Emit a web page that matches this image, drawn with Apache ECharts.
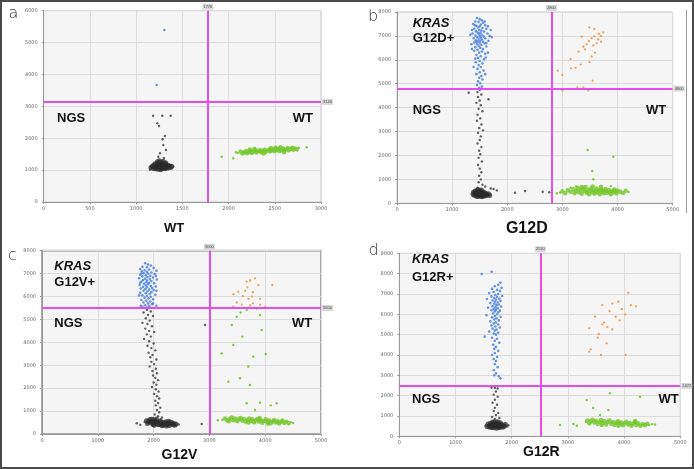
<!DOCTYPE html>
<html>
<head>
<meta charset="utf-8">
<script src="https://cdn.jsdelivr.net/npm/echarts@6/dist/echarts.min.js"></script>
<style>
  html, body { margin: 0; padding: 0; background: #fff; }
  #chart { width: 694px; height: 469px; }
</style>
</head>
<body>
<div id="chart"></div>
<script>
// ---- panel a : WT ----
// dense droplet clouds ("core") and the scattered droplets around them
const aBlackCore = [[1160,1080],[1175,1120],[1185,1050],[1190,1160],[1200,1100],[1205,1200],[1210,1040],[1215,1140],[1220,1080],[1225,1180],[1230,1120],[1235,1030],[1240,1220],[1245,1090],[1250,1150],[1255,1060],[1260,1190],[1262,1120],[1265,1010],[1268,1240],[1270,1140],[1272,1080],[1275,1170],[1278,1050],[1280,1110],[1285,1210],[1288,1130],[1290,1070],[1295,1160],[1300,1100],[1305,1190],[1310,1040],[1315,1130],[1320,1080],[1325,1170],[1330,1110],[1340,1060],[1345,1150],[1355,1100],[1365,1130],[1375,1080],[1385,1120],[1250,1290],[1290,1280],[1230,1260],[1320,1230]];
const aBlack = [[1184,2707],[1283,2707],[1374,2707],[1229,2468],[1247,2384],[1287,1966],[1312,2070],[1294,1788],[1258,1527],[1323,1631],[1240,1420],[1300,1380],[1150,1010],[1400,1120]];
const aGreenCore = [[2130,1580],[2150,1520],[2170,1560],[2190,1600],[2200,1530],[2220,1570],[2240,1610],[2250,1540],[2270,1580],[2290,1620],[2300,1550],[2320,1590],[2340,1630],[2350,1560],[2370,1600],[2390,1640],[2400,1570],[2420,1610],[2440,1650],[2450,1580],[2470,1620],[2490,1660],[2500,1590],[2520,1630],[2540,1670],[2550,1600],[2570,1640],[2590,1680],[2600,1610],[2620,1650],[2640,1690],[2650,1620],[2670,1660],[2690,1700],[2700,1640],[2720,1680],[2740,1650],[2560,1720],[2460,1690],[2380,1520],[2600,1560],[2230,1650],[2510,1700],[2280,1660]];
const aGreen = [[1926,1420],[2050,1370],[2080,1560],[2100,1540],[2760,1700],[2845,1715]];
const aBlue = [[1305,5395],[1222,3670]];
const aOrange = [];

// ---- panel b : G12D ----
const bBlackCore = [[1380,380],[1390,470],[1400,340],[1410,430],[1420,510],[1430,390],[1440,300],[1445,460],[1450,360],[1460,540],[1465,420],[1470,280],[1480,480],[1485,350],[1490,430],[1500,390],[1505,500],[1510,310],[1515,450],[1520,370],[1530,420],[1535,270],[1540,480],[1550,340],[1555,440],[1560,390],[1570,300],[1580,460],[1590,360],[1600,420],[1610,320],[1620,390],[1640,350],[1660,400],[1680,330],[1470,580],[1530,560]];
const bBlack = [[1500,4750],[1460,4650],[1300,4620],[1530,4550],[1470,4450],[1660,4350],[1500,4300],[1440,4200],[1520,4100],[1480,3950],[1550,3850],[1460,3700],[1510,3550],[1450,3450],[1530,3300],[1490,3150],[1560,3050],[1470,2950],[1520,2800],[1500,2650],[1460,2500],[1530,2350],[1490,2200],[1510,2050],[1480,1900],[1540,1750],[1470,1600],[1500,1450],[1530,1300],[1490,1150],[1520,1000],[1480,880],[1550,780],[1600,700],[1460,650],
  [1360,420],[1700,370],[1750,600],[1810,540],[1700,620],[2140,443],[2322,514],[2643,485],[2763,460]];
const bGreenCore = [[3000,500],[3050,420],[3100,550],[3150,480],[3200,600],[3220,420],[3250,520],[3280,650],[3300,460],[3330,560],[3350,400],[3380,620],[3400,500],[3420,680],[3440,440],[3460,570],[3480,380],[3500,520],[3520,630],[3540,460],[3560,560],[3580,400],[3600,500],[3620,620],[3640,450],[3660,540],[3680,380],[3700,590],[3720,480],[3740,530],[3760,420],[3780,600],[3800,500],[3820,440],[3840,560],[3860,480],[3880,380],[3900,530],[3920,450],[3940,580],[3960,500],[3980,420],[4000,540],[4050,480],[4100,430],[4150,520],[3550,700],[3350,680],[3700,690]];
const bGreen = [[2960,450],[4200,470],[2998,4738],[3470,4738],[3459,2229],[3923,1949],[3542,1351],[3560,1004],[2900,420],[3150,650],[3250,700],[3880,720]];
const bBlue = [[1450,7750],[1500,7700],[1540,7650],[1420,7600],[1480,7580],[1560,7550],[1380,7500],[1520,7480],[1600,7450],[1440,7420],[1500,7400],[1470,7350],[1550,7330],[1400,7300],[1620,7300],[1490,7250],[1530,7220],[1430,7200],[1580,7180],[1460,7150],[1510,7120],[1370,7100],[1640,7100],[1480,7080],[1540,7050],[1420,7020],[1500,7000],[1570,6980],[1450,6950],[1520,6930],[1600,6900],[1390,6900],[1480,6880],[1540,6850],[1430,6820],[1510,6800],[1660,6800],[1470,6770],[1560,6750],[1400,6720],[1500,6700],[1590,6680],[1450,6650],[1530,6620],[1480,6580],[1620,6560],[1420,6530],[1510,6500],[1560,6450],[1460,6420],[1400,6380],[1540,6350],[1490,6300],[1600,6250],[1440,6200],[1520,6150],[1470,6080],[1580,6020],[1500,5950],[1430,5900],[1550,5850],[1480,5780],[1520,5700],[1460,5620],[1570,5550],[1500,5480],[1440,5400],[1530,5320],[1490,5250],[1550,5180],[1470,5100],[1510,5020],[1450,4950],[1540,4880],[1490,4830],[1700,7250],[1720,6950],[1350,6650],[1330,7050],[1410,7450],[1590,7600],[1650,7400],[1360,7250],[1680,7000],[1440,6750],[1620,6700],[1360,6450],[1650,6300],[1420,6050],[1610,6100],[1390,5700],[1600,5400]];
const bOrange = [[3488,7360],[3578,7289],[3742,7150],[3350,6967],[3530,6900],[3650,6850],[3620,6690],[3480,6780],[3380,6550],[3290,6340],[3410,6440],[3590,6300],[3530,6140],[3150,6035],[3330,5800],[3490,5900],[3240,5660],[3155,5645],[2915,5545],[2998,5365],[3549,5127],[3270,4850],[3380,4850],[3700,7000],[3660,7080],[3580,6980],[3700,6760],[3440,6650],[3560,6600]];

// ---- panel c : G12V ----
const cBlackCore = [[1870,580],[1890,460],[1910,540],[1930,620],[1950,490],[1970,560],[1990,420],[2000,520],[2020,600],[2040,470],[2060,540],[2080,400],[2100,500],[2120,570],[2140,440],[2160,510],[2180,380],[2200,480],[2220,540],[2240,420],[2260,490],[2280,370],[2300,450],[2320,510],[2340,400],[2360,460],[2380,380],[2400,440],[2010,380],[2150,360],[1960,640],[2230,350],[2050,650],[2110,420],[2270,560]];
const cBlack = [[1880,5420],[1950,5350],[1820,5300],[1900,5200],[1990,5150],[1860,5050],[1930,4950],[1800,4850],[1890,4800],[1970,4700],[1850,4600],[1920,4500],[2010,4450],[1880,4350],[1950,4250],[1830,4150],[1920,4050],[2000,3950],[1890,3850],[1960,3750],[2030,3650],[1910,3550],[1980,3450],[1940,3350],[2050,3250],[1960,3150],[2010,3050],[1930,2950],[2040,2850],[1980,2750],[2060,2650],[1990,2550],[2030,2450],[2080,2350],[2000,2250],[2050,2150],[1970,2050],[2040,1950],[2090,1850],[2010,1750],[2060,1650],[2100,1550],[2030,1450],[2080,1350],[2040,1250],[2120,1150],[2060,1050],[2100,950],[2020,850],[2080,780],[2150,720],[1990,700],[2130,650],
  [1840,520],[2420,400],[2450,420],[1697,470],[1760,400],[2921,4757],[2862,436]];
const cGreenCore = [[3280,680],[3320,590],[3360,660],[3400,720],[3430,600],[3460,680],[3500,560],[3530,640],[3560,700],[3590,580],[3620,660],[3650,530],[3680,610],[3710,680],[3740,560],[3770,640],[3800,510],[3830,590],[3860,660],[3890,540],[3920,610],[3950,490],[3980,570],[4010,640],[4040,520],[4070,590],[4100,470],[4130,550],[4160,610],[4190,500],[4220,560],[4250,460],[4280,530],[4310,590],[4340,480],[4380,540],[4420,470],[3350,560],[3700,500],[3900,700],[4050,450]];
const cGreen = [[3230,620],[3150,600],[4460,520],[4500,480],[3489,5120],[3668,5412],[3907,5194],[3400,4757],[3590,4248],[3937,4539],[3220,3521],[3428,3885],[3787,3375],[4009,3492],[3697,2939],[3339,2284],[3548,2430],[3728,2139],[3668,1340],[3907,1366],[4206,1340],[3817,1050],[4100,1250],[3850,5480],[3560,5300]];
const cBlue = [[1850,7450],[1900,7400],[1950,7350],[1800,7300],[1880,7280],[2000,7250],[1760,7200],[1920,7180],[1840,7150],[2050,7120],[1790,7100],[1880,7080],[1960,7050],[1820,7020],[1900,7000],[2020,6980],[1760,6950],[1860,6930],[1940,6900],[1800,6880],[1890,6850],[1990,6830],[1740,6800],[1850,6780],[1930,6760],[2060,6740],[1810,6720],[1880,6700],[1960,6680],[1780,6650],[1870,6620],[1920,6600],[2010,6580],[1830,6560],[1900,6540],[1750,6500],[1860,6480],[1950,6460],[2040,6440],[1810,6420],[1880,6400],[1970,6370],[1770,6350],[1850,6330],[1920,6300],[2000,6280],[1820,6250],[1890,6220],[1960,6190],[1760,6160],[1860,6140],[1930,6110],[2030,6080],[1800,6050],[1880,6020],[1950,5990],[1840,5950],[1910,5920],[1990,5880],[1780,5850],[1870,5820],[1940,5780],[1820,5740],[1900,5700],[1970,5660],[1850,5620],[1920,5580],[1800,5550],[1880,5520],[2050,5600],[1780,7000],[2040,6900],[1760,6600],[2050,6250],[1740,6050],[1990,5700],[1770,5600]];
const cOrange = [[3668,6647],[3730,6700],[3817,6793],[3880,6500],[3640,6250],[3780,6190],[3910,5900],[3518,6211],[3430,6100],[3600,6020],[3700,5900],[3490,5740],[3780,5700],[3580,5650],[3910,5640],[3730,5610],[4128,6503],[3430,5560],[4000,5550],[3680,6400],[3760,6000]];

// ---- panel d : G12R ----
const dBlackCore = [[1560,480],[1580,600],[1600,520],[1610,440],[1620,640],[1640,560],[1650,480],[1660,700],[1670,420],[1680,600],[1690,520],[1700,460],[1710,650],[1720,560],[1730,400],[1740,520],[1750,620],[1760,470],[1770,580],[1780,420],[1790,540],[1800,660],[1810,490],[1820,580],[1840,440],[1850,540],[1870,500],[1890,580],[1700,720],[1760,700],[1640,450]];
const dBlack = [[1640,2400],[1700,2380],[1750,2350],[1720,2200],[1680,2050],[1750,1950],[1700,1800],[1660,1650],[1740,1550],[1700,1400],[1680,1250],[1760,1150],[1720,1050],[1650,950],[1780,900],[1700,850],[1740,780],
  [1540,540],[1920,480],[1940,540]];
const dGreenCore = [[3350,780],[3380,640],[3410,740],[3440,820],[3470,680],[3500,760],[3530,600],[3560,720],[3590,800],[3620,660],[3650,740],[3680,580],[3710,700],[3740,780],[3770,620],[3800,700],[3830,560],[3860,680],[3890,740],[3920,600],[3950,680],[3980,540],[4010,640],[4040,720],[4070,580],[4100,660],[4130,520],[4160,620],[4190,700],[4220,560],[4250,640],[4290,520],[4330,600],[4370,540],[4410,620],[3600,560],[3900,520],[4200,750]];
const dGreen = [[3320,700],[4450,560],[4500,600],[4550,580],[2860,560],[3097,605],[3160,520],[3335,1785],[3750,2115],[4283,1947],[3572,1047],[3720,1293],[3450,1390]];
const dBlue = [[1466,7982],[1644,8095],[1800,7560],[1760,7450],[1700,7380],[1820,7300],[1650,7250],[1740,7200],[1790,7150],[1680,7100],[1600,7050],[1760,7000],[1710,6950],[1830,6900],[1640,6880],[1740,6850],[1690,6800],[1780,6760],[1560,6750],[1720,6720],[1660,6680],[1800,6650],[1700,6620],[1750,6580],[1620,6550],[1690,6520],[1770,6480],[1730,6450],[1660,6400],[1810,6380],[1710,6350],[1580,6320],[1750,6300],[1680,6260],[1720,6220],[1640,6200],[1790,6180],[1700,6150],[1760,6100],[1670,6050],[1740,6000],[1550,5950],[1700,5920],[1800,5880],[1650,5850],[1730,5800],[1690,5750],[1770,5700],[1620,5650],[1720,5600],[1680,5550],[1760,5500],[1640,5450],[1710,5400],[1790,5350],[1660,5300],[1730,5250],[1700,5200],[1600,5150],[1760,5100],[1680,5050],[1720,5000],[1520,4900],[1650,4850],[1740,4800],[1700,4700],[1780,4600],[1670,4500],[1720,4400],[1690,4300],[1760,4200],[1700,4100],[1650,4000],[1740,3900],[1680,3800],[1720,3700],[1700,3550],[1750,3400],[1680,3250],[1720,3100],[1770,2950],[1800,2850],[1690,3000]];
const dOrange = [[4075,7061],[3897,6619],[3790,6530],[3612,6455],[4120,6450],[4210,6390],[3740,6150],[3960,6250],[4020,5990],[3482,5883],[3850,5880],[3920,5700],[3645,5600],[3615,5500],[3790,5260],[3550,5030],[3380,5320],[3700,5370],[3690,4574],[3530,4850],[3405,4278],[3380,4160],[3590,4000],[4028,4000]];

// axes and thresholds
const xMax = [3000, 5000, 5000, 5000];
const xStep = [500, 1000, 1000, 1000];
const yMax = [6000, 8000, 8000, 9000];
const thresholdX = [1776, 2800, 3000, 2510];
const thresholdY = [3140, 4800, 5500, 2472];
const panelLetters = ['a', 'b', 'c', 'd'];
const xTitles = ['WT', 'G12D', 'G12V', 'G12R'];
const mutTitles = ['', 'G12D+', 'G12V+', 'G12R+'];

const blackCore = [aBlackCore, bBlackCore, cBlackCore, dBlackCore];
const black = [aBlack, bBlack, cBlack, dBlack];
const greenCore = [aGreenCore, bGreenCore, cGreenCore, dGreenCore];
const green = [aGreen, bGreen, cGreen, dGreen];
const blue = [aBlue, bBlue, cBlue, dBlue];
const orange = [aOrange, bOrange, cOrange, dOrange];

const grids = [
  { left: 43.7, top: 10.7, width: 277.3, height: 191.3 },
  { left: 397, top: 12, width: 275.7, height: 191.3 },
  { left: 42, top: 250.7, width: 279, height: 183.3 },
  { left: 399.3, top: 253.3, width: 281, height: 183 },
];

const MAGENTA = '#e44cee';
const chart = echarts.init(document.getElementById('chart'));

const axisBase = {
  axisLine: { show: true, lineStyle: { color: '#999' } },
  axisTick: { show: true, length: 2, lineStyle: { color: '#999' } },
  splitLine: { show: true, lineStyle: { color: '#dcdcdc', width: 1 } },
};

const option = {
  backgroundColor: '#fff',
  animation: false,
  grid: grids.map((g, i) => ({
    ...g,
    show: true,
    backgroundColor: '#f5f5f5',
    borderColor: i === 2 ? '#a8a8a8' : '#c8c8c8',
    borderWidth: i === 2 ? 2 : 1,
  })),
  xAxis: grids.map((g, i) => ({
    ...axisBase, type: 'value', gridIndex: i, min: 0, max: xMax[i], interval: xStep[i],
    axisLabel: { fontSize: 5, color: '#666', margin: 4, fontFamily: 'DejaVu Sans', formatter: v => String(v) },
  })),
  yAxis: grids.map((g, i) => ({
    ...axisBase, type: 'value', gridIndex: i, min: 0, max: yMax[i], interval: 1000,
    axisLabel: { fontSize: 5, color: '#666', margin: 6, fontFamily: 'DejaVu Sans', formatter: v => String(v) },
  })),
  series: [],
  graphic: [],
};

for (let i = 0; i < 4; i++) {
  const base = { type: 'scatter', xAxisIndex: i, yAxisIndex: i, silent: true };
  option.series.push({
    ...base, name: 'blackCore' + i, data: blackCore[i], symbolSize: 5,
    itemStyle: { color: '#2b2b2b', opacity: 0.75 },
    markLine: {
      silent: true, symbol: 'none',
      lineStyle: { color: MAGENTA, width: 2, type: 'solid' },
      label: {
        show: true, position: 'end', fontSize: 4, color: '#444',
        backgroundColor: '#d8d8d8', padding: [1, 1], distance: 1,
        formatter: p => String(p.value),
      },
      data: [{ xAxis: thresholdX[i] }, { yAxis: thresholdY[i] }],
    },
  });
  option.series.push({
    ...base, name: 'black' + i, data: black[i], symbolSize: 2.4,
    itemStyle: { color: '#444', opacity: 0.85 },
  });
  option.series.push({
    ...base, name: 'greenCore' + i, data: greenCore[i], symbolSize: 4.5,
    itemStyle: { color: '#74c72a', opacity: 0.8 },
  });
  option.series.push({
    ...base, name: 'green' + i, data: green[i], symbolSize: 2.4,
    itemStyle: { color: '#74c72a', opacity: 0.9 },
  });
  option.series.push({
    ...base, name: 'blue' + i, data: blue[i], symbolSize: 2.6,
    itemStyle: { color: '#4a80e2', opacity: 0.85 },
  });
  option.series.push({
    ...base, name: 'orange' + i, data: orange[i], symbolSize: 2.3,
    itemStyle: { color: '#ee9a4c', opacity: 0.9 },
  });
}

// text layer
const txt = (text, x, y, font, align, extra) => ({
  type: 'text', silent: true, z: 100,
  style: Object.assign({ text, x, y, font, fill: '#111', align: align || 'left', verticalAlign: 'middle' }, extra || {}),
});
const bold = '700 13px "Liberation Sans", Arial, sans-serif';
const italicBold = 'italic 700 13px "Liberation Sans", Arial, sans-serif';
const letterFont = '300 16px "DejaVu Sans", sans-serif';

option.graphic.push(
  { type: 'rect', silent: true, z: 0, shape: { x: 1, y: 1, width: 692, height: 467 },
    style: { fill: 'none', stroke: '#4a4a4a', lineWidth: 2 } },
  { type: 'line', silent: true, shape: { x1: 686.5, y1: 10, x2: 686.5, y2: 213 },
    style: { stroke: '#999', lineWidth: 1 } },
  // panel a
  txt(panelLetters[0], 8.5, 14, letterFont, 'left', { fill: '#333' }),
  txt('NGS', 57, 118, bold),
  txt('WT', 313, 118, bold, 'right'),
  txt(xTitles[0], 174, 228.5, bold, 'center'),
  // panel b
  txt(panelLetters[1], 368, 17, letterFont, 'left', { fill: '#333' }),
  txt('KRAS', 412.7, 23.7, italicBold),
  txt(mutTitles[1], 412.7, 38, bold),
  txt('NGS', 412.7, 110.7, bold),
  txt('WT', 666.3, 110.7, bold, 'right'),
  txt(xTitles[1], 526.8, 229, '700 16px "Liberation Sans", Arial, sans-serif', 'center'),
  // panel c
  txt(panelLetters[2], 8, 256, letterFont, 'left', { fill: '#333' }),
  txt('KRAS', 54.3, 266.8, italicBold),
  txt(mutTitles[2], 54.3, 282, bold),
  txt('NGS', 54.3, 323.7, bold),
  txt('WT', 312.3, 323.7, bold, 'right'),
  txt(xTitles[2], 179.5, 454.7, '700 14px "Liberation Sans", Arial, sans-serif', 'center'),
  // panel d
  txt(panelLetters[3], 368.5, 251, letterFont, 'left', { fill: '#333' }),
  txt('KRAS', 412, 259, italicBold),
  txt(mutTitles[3], 412, 277.7, bold),
  txt('NGS', 412, 399.7, bold),
  txt('WT', 678.7, 399.7, bold, 'right'),
  txt(xTitles[3], 541.3, 452, '700 14px "Liberation Sans", Arial, sans-serif', 'center')
);

chart.setOption(option);
</script>
</body>
</html>
